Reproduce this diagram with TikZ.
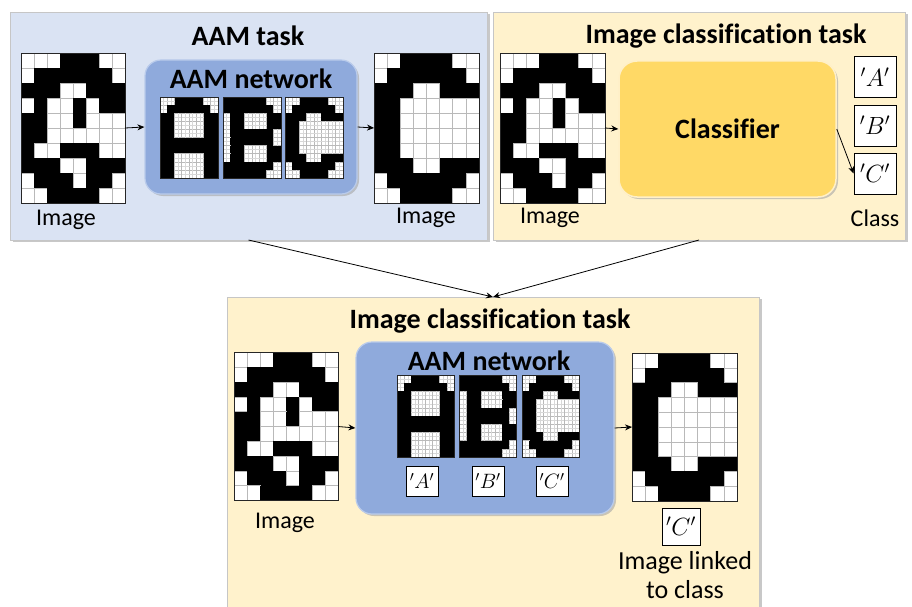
\documentclass[tikz,border=0pt]{standalone}
\usepackage{fontspec}
\setmainfont{Carlito}[Ligatures=NoCommon]
\usetikzlibrary{arrows.meta,shadows}
\definecolor{panelblue}{RGB}{218,227,243}
\definecolor{panelyellow}{RGB}{255,242,204}
\definecolor{aamblue}{RGB}{143,170,220}
\definecolor{aamedge}{RGB}{185,203,235}
\definecolor{clsyellow}{RGB}{255,217,102}
\definecolor{clsedge}{RGB}{255,240,200}
\definecolor{gridgray}{RGB}{185,185,185}

\tikzset{
  panel/.style={draw=gray!45, line width=0.8pt, inner sep=0pt, outer sep=0pt,
    drop shadow={shadow xshift=2.5pt, shadow yshift=-2pt, fill=gray!60, opacity=0.7}},
  aambox/.style={fill=aamblue, draw=aamedge, line width=1.2pt, rounded corners=16pt,
    inner sep=0pt, drop shadow={shadow xshift=2pt, shadow yshift=-2pt, fill=gray!70, opacity=0.6}},
  clsbox/.style={fill=clsyellow, draw=clsedge, line width=1.5pt, rounded corners=18pt,
    inner sep=0pt, drop shadow={shadow xshift=2pt, shadow yshift=-2pt, fill=gray!70, opacity=0.6}},
  pixframe/.style={inner sep=0pt, outer sep=0pt},
  ttl/.style={font=\fontsize{28}{32}\selectfont\bfseries, inner sep=0pt},
  lbl/.style={font=\fontsize{24}{29}\selectfont, inner sep=0pt},
  classbox/.style={draw, fill=white, line width=0.8pt, minimum width=42pt, minimum height=41pt,
    inner sep=0pt, font=\fontsize{26}{30}\selectfont},
  smallclass/.style={draw, fill=white, line width=0.8pt, minimum width=32pt, minimum height=30pt,
    inner sep=0pt, font=\fontsize{20}{24}\selectfont},
  conn/.style={line width=0.8pt, -{Stealth[length=7pt,width=6pt]}}
}

\def\Gdat{{0,0,0,1,1,1,0,0},{0,1,1,1,1,1,1,0},{1,1,1,0,0,1,1,1},{0,1,0,0,1,0,1,1},{1,1,0,0,1,0,0,0},{1,1,0,0,0,0,0,0},{1,0,0,1,1,1,0,0},{1,1,1,0,0,1,1,1},{0,1,1,1,0,1,1,0},{0,0,1,1,1,1,0,0}}
\def\Cdat{{0,0,1,1,1,1,0,0},{0,1,1,1,1,1,1,0},{1,1,1,0,0,1,1,1},{1,1,0,0,0,0,0,0},{1,1,0,0,0,0,0,0},{1,1,0,0,0,0,0,0},{1,1,0,0,0,0,0,0},{1,1,1,0,0,1,1,1},{0,1,1,1,1,1,1,0},{0,0,1,1,1,1,0,0}}
\def\Adat{{0,0,1,1,1,1,0,0},{0,1,1,1,1,1,1,0},{1,1,0,0,0,0,1,1},{1,1,0,0,0,0,1,1},{1,1,0,0,0,0,1,1},{1,1,1,1,1,1,1,1},{1,1,1,1,1,1,1,1},{1,1,0,0,0,0,1,1},{1,1,0,0,0,0,1,1},{1,1,0,0,0,0,1,1}}
\def\Bdat{{1,1,1,1,1,1,0,0},{1,1,1,1,1,1,1,0},{0,1,1,0,0,0,1,1},{0,1,1,0,0,0,1,1},{0,1,1,1,1,1,1,0},{0,1,1,1,1,1,1,0},{0,1,1,0,0,0,1,1},{0,1,1,0,0,0,1,1},{1,1,1,1,1,1,1,0},{1,1,1,1,1,1,0,0}}

% name, cx, cy, width, height, data, subdivision (1 or 2)
\newcommand\pixgrid[7]{%
  \node[pixframe, minimum width=#4pt, minimum height=#5pt] (#1) at (#2,#3) {};
  \pgfmathsetmacro\gcw{#4/8}%
  \pgfmathsetmacro\gch{#5/10}%
  \begin{scope}[shift={(#1.north west)}]
    \foreach \gline [count=\gr from 0] in #6 {
      \foreach \gv [count=\gc from 0] in \gline {
        \ifnum\gv=1
          \fill[black] (\gc*\gcw,\gr*\gch) rectangle ++(\gcw,\gch);
        \else
          \filldraw[fill=white,draw=gridgray,line width=0.6pt] (\gc*\gcw,\gr*\gch) rectangle ++(\gcw,\gch);
          \ifnum#7=2
            \draw[gridgray!55,line width=0.35pt] (\gc*\gcw+0.5*\gcw,\gr*\gch) -- ++(0,\gch)
              (\gc*\gcw,\gr*\gch+0.5*\gch) -- ++(\gcw,0);
          \fi
        \fi
      }
    }
  \end{scope}
  \draw[line width=0.9pt,black!85] (#1.north west) rectangle (#1.south east);
}

\begin{document}
\begin{tikzpicture}[x=1pt,y=-1pt]
\useasboundingbox[fill=white] (0,0) rectangle (912,607);

% ---------- panels ----------
\node[panel, fill=panelblue, minimum width=477pt, minimum height=228pt] (p1) at (248.5,126) {};
\node[panel, fill=panelyellow, minimum width=412pt, minimum height=228pt] (p2) at (699,126) {};
\node[panel, fill=panelyellow, minimum width=532pt, minimum height=312pt] (p3) at (493,453) {};

% ---------- titles ----------
\node[ttl] (t1) at (248,36) {AAM task};
\node[ttl] (t2) at (726,36) {Image classification task};
\node[ttl] (t3) at (490,321) {Image classification task};

% ---------- top left: AAM task ----------
\pixgrid{g1}{73}{128}{104}{150}{\Gdat}{1}
\node[lbl] (l1) at (66,220) {Image};
\node[aambox, minimum width=212pt, minimum height=134pt] (aam1) at (251,127) {};
\node[ttl] (n1) at (251,79) {AAM network};
\pixgrid{a1}{189}{137.5}{58}{81}{\Adat}{2}
\pixgrid{b1}{252}{137.5}{58}{81}{\Bdat}{2}
\pixgrid{k1}{314}{137.5}{58}{81}{\Cdat}{2}
\pixgrid{c1}{426.5}{128}{105}{150}{\Cdat}{1}
\node[lbl] (l2) at (426,218) {Image};
\draw[conn] (g1.east) -- (aam1.west);
\draw[conn] (aam1.east) -- (c1.west);

% ---------- top right: classification task ----------
\pixgrid{g2}{552.5}{128}{105}{150}{\Gdat}{1}
\node[lbl] (l3) at (550,218) {Image};
\node[clsbox, minimum width=217pt, minimum height=136pt, font=\fontsize{28}{32}\selectfont\bfseries] (cls) at (727.5,129) {Classifier};
\node[classbox] (ca) at (875,77) {$'A'$};
\node[classbox] (cb) at (875,125.5) {$'B'$};
\node[classbox] (cc) at (875,173.5) {$'C'$};
\node[lbl] (l4) at (875,218) {Class};
\draw[conn] (g2.east) -- (cls.west);
\draw[conn] (cls.east) -- (cc.west);

% ---------- connectors to bottom panel ----------
\draw[conn] (p1.south) -- (p3.north);
\draw[conn] (p2.south) -- (p3.north);

% ---------- bottom: combined task ----------
\pixgrid{g3}{286}{426.5}{104}{148}{\Gdat}{1}
\node[lbl] (l5) at (285,523) {Image};
\node[aambox, minimum width=258pt, minimum height=172pt] (aam2) at (485,428) {};
\node[ttl] (n2) at (489,361) {AAM network};
\pixgrid{a2}{425.5}{416}{57}{82}{\Adat}{2}
\pixgrid{b2}{488}{416}{57}{82}{\Bdat}{2}
\pixgrid{k2}{550.5}{416}{57}{82}{\Cdat}{2}
\node[smallclass] (sa) at (422,481) {$'A'$};
\node[smallclass] (sb) at (488,481) {$'B'$};
\node[smallclass] (sc) at (552,481) {$'C'$};
\pixgrid{c3}{684.5}{427}{105}{148}{\Cdat}{1}
\node[classbox, minimum width=38pt, minimum height=37pt, font=\fontsize{24}{28}\selectfont] (cc3) at (681,526.5) {$'C'$};
\node[lbl, align=center, font=\fontsize{26}{29}\selectfont] (l6) at (685,575) {Image linked\\to class};
\draw[conn] (g3.east) -- (aam2.west);
\draw[conn] (aam2.east) -- (c3.west);
\end{tikzpicture}
\end{document}
